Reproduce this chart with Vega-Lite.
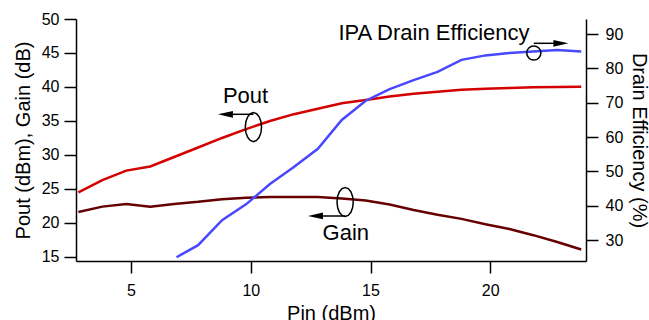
{
  "$schema": "https://vega.github.io/schema/vega-lite/v6.json",
  "width": 510,
  "height": 242,
  "autosize": {"type": "none"},
  "padding": {"left": 76, "top": 19, "right": 63, "bottom": 59},
  "background": "white",
  "datasets": {
    "curves": [
      {"Pin": 2.8, "series": "Pout", "v": 24.5},
      {"Pin": 3.8, "series": "Pout", "v": 26.3},
      {"Pin": 4.8, "series": "Pout", "v": 27.7},
      {"Pin": 5.8, "series": "Pout", "v": 28.3},
      {"Pin": 6.8, "series": "Pout", "v": 29.7},
      {"Pin": 7.8, "series": "Pout", "v": 31.1},
      {"Pin": 8.8, "series": "Pout", "v": 32.5},
      {"Pin": 9.8, "series": "Pout", "v": 33.8},
      {"Pin": 10.8, "series": "Pout", "v": 35.0},
      {"Pin": 11.8, "series": "Pout", "v": 36.0},
      {"Pin": 12.8, "series": "Pout", "v": 36.8},
      {"Pin": 13.8, "series": "Pout", "v": 37.6},
      {"Pin": 14.8, "series": "Pout", "v": 38.1},
      {"Pin": 15.8, "series": "Pout", "v": 38.6},
      {"Pin": 16.8, "series": "Pout", "v": 39.0},
      {"Pin": 17.8, "series": "Pout", "v": 39.3},
      {"Pin": 18.8, "series": "Pout", "v": 39.6},
      {"Pin": 19.8, "series": "Pout", "v": 39.75},
      {"Pin": 20.8, "series": "Pout", "v": 39.85},
      {"Pin": 21.8, "series": "Pout", "v": 39.95},
      {"Pin": 22.8, "series": "Pout", "v": 40.0},
      {"Pin": 23.8, "series": "Pout", "v": 40.05},
      {"Pin": 2.8, "series": "Gain", "v": 21.6},
      {"Pin": 3.8, "series": "Gain", "v": 22.4},
      {"Pin": 4.8, "series": "Gain", "v": 22.8},
      {"Pin": 5.8, "series": "Gain", "v": 22.4},
      {"Pin": 6.8, "series": "Gain", "v": 22.8},
      {"Pin": 7.8, "series": "Gain", "v": 23.1},
      {"Pin": 8.8, "series": "Gain", "v": 23.5},
      {"Pin": 9.8, "series": "Gain", "v": 23.7},
      {"Pin": 10.8, "series": "Gain", "v": 23.8},
      {"Pin": 11.8, "series": "Gain", "v": 23.8},
      {"Pin": 12.8, "series": "Gain", "v": 23.8},
      {"Pin": 13.8, "series": "Gain", "v": 23.6},
      {"Pin": 14.8, "series": "Gain", "v": 23.3},
      {"Pin": 15.8, "series": "Gain", "v": 22.7},
      {"Pin": 16.8, "series": "Gain", "v": 21.9},
      {"Pin": 17.8, "series": "Gain", "v": 21.2},
      {"Pin": 18.8, "series": "Gain", "v": 20.6},
      {"Pin": 19.8, "series": "Gain", "v": 19.8},
      {"Pin": 20.8, "series": "Gain", "v": 19.1},
      {"Pin": 21.8, "series": "Gain", "v": 18.2},
      {"Pin": 22.8, "series": "Gain", "v": 17.2},
      {"Pin": 23.8, "series": "Gain", "v": 16.1},
      {"Pin": 6.9, "series": "Eff", "v": 25.0},
      {"Pin": 7.8, "series": "Eff", "v": 28.5},
      {"Pin": 8.8, "series": "Eff", "v": 35.8},
      {"Pin": 9.8, "series": "Eff", "v": 40.4},
      {"Pin": 10.8, "series": "Eff", "v": 46.3},
      {"Pin": 11.8, "series": "Eff", "v": 51.3},
      {"Pin": 12.8, "series": "Eff", "v": 56.6},
      {"Pin": 13.8, "series": "Eff", "v": 65.0},
      {"Pin": 14.8, "series": "Eff", "v": 70.6},
      {"Pin": 15.8, "series": "Eff", "v": 74.0},
      {"Pin": 16.8, "series": "Eff", "v": 76.6},
      {"Pin": 17.8, "series": "Eff", "v": 79.0},
      {"Pin": 18.8, "series": "Eff", "v": 82.5},
      {"Pin": 19.8, "series": "Eff", "v": 83.8},
      {"Pin": 20.8, "series": "Eff", "v": 84.5},
      {"Pin": 21.8, "series": "Eff", "v": 84.9},
      {"Pin": 22.8, "series": "Eff", "v": 85.4},
      {"Pin": 23.8, "series": "Eff", "v": 84.9}
    ],
    "notes": [
      {"kind": "text", "side": "left", "Pin": 9.78, "v": 37.6, "label": "Pout"},
      {"kind": "text", "side": "left", "Pin": 13.97, "v": 17.5, "label": "Gain"},
      {"kind": "text", "side": "right", "Pin": 17.65, "v": 88.3, "label": "IPA Drain Efficiency"},
      {"kind": "ellipse", "side": "left", "Pin": 10.11, "v": 34.1},
      {"kind": "ellipse", "side": "left", "Pin": 13.94, "v": 23.08},
      {"kind": "ellipse", "side": "right", "Pin": 21.82, "v": 84.5},
      {"kind": "arrow", "side": "left", "Pin": 8.94, "Pin2": 10.11, "v": 35.98},
      {"kind": "arrow", "side": "left", "Pin": 12.7, "Pin2": 13.94, "v": 21.02},
      {"kind": "arrow", "side": "right", "Pin": 22.95, "Pin2": 21.82, "v": 87.32}
    ]
  },
  "layer": [
    {
      "encoding": {
        "x": {"field": "Pin", "type": "quantitative", "scale": {"domain": [2.7, 24], "nice": false, "zero": false}, "axis": {"values": [5, 10, 15, 20], "title": "Pin (dBm)", "labelPadding": 9, "titlePadding": 5}},
        "y": {"field": "v", "type": "quantitative", "scale": {"domain": [14.4, 50], "nice": false, "zero": false}, "axis": {"orient": "left", "values": [15, 20, 25, 30, 35, 40, 45, 50], "title": "Pout (dBm), Gain (dB)", "labelPadding": 5, "titlePadding": 8}}
      },
      "layer": [
        {
          "data": {"name": "curves"},
          "transform": [{"filter": "datum.series !== 'Eff'"}],
          "mark": {"type": "line", "strokeWidth": 2.5},
          "encoding": {
            "color": {"field": "series", "type": "nominal", "scale": {"domain": ["Pout", "Gain"], "range": ["#d40000", "#660000"]}, "legend": null},
            "detail": {"field": "series"}
          }
        },
        {
          "data": {"name": "notes"},
          "transform": [{"filter": "datum.side === 'left' && datum.kind === 'text'"}],
          "mark": {"type": "text", "fontSize": 22, "font": "Liberation Sans", "align": "center", "baseline": "alphabetic", "color": "black"},
          "encoding": {"text": {"field": "label"}}
        },
        {
          "data": {"name": "notes"},
          "transform": [{"filter": "datum.side === 'left' && datum.kind === 'ellipse'"}],
          "mark": {"type": "point", "filled": false, "stroke": "black", "strokeWidth": 1.5, "opacity": 1, "size": 841, "shape": "M0.56,0L0.517,0.383L0.396,0.707L0.214,0.924L0,1L-0.214,0.924L-0.396,0.707L-0.517,0.383L-0.56,0L-0.517,-0.383L-0.396,-0.707L-0.214,-0.924L0,-1L0.214,-0.924L0.396,-0.707L0.517,-0.383Z"}
        },
        {
          "data": {"name": "notes"},
          "transform": [{"filter": "datum.side === 'left' && datum.kind === 'arrow'"}],
          "mark": {"type": "rule", "stroke": "black", "strokeWidth": 1.5},
          "encoding": {"x2": {"field": "Pin2"}}
        },
        {
          "data": {"name": "notes"},
          "transform": [{"filter": "datum.side === 'left' && datum.kind === 'arrow'"}],
          "mark": {"type": "point", "filled": true, "fill": "black", "stroke": null, "opacity": 1, "size": 225, "shape": "M-1,0L1,-0.45L1,0.45Z"}
        }
      ]
    },
    {
      "encoding": {
        "x": {"field": "Pin", "type": "quantitative", "scale": {"domain": [2.7, 24], "nice": false, "zero": false}, "axis": {"values": [5, 10, 15, 20], "title": "Pin (dBm)", "labelPadding": 9, "titlePadding": 5}},
        "y": {"field": "v", "type": "quantitative", "scale": {"domain": [23.9, 94.4], "nice": false, "zero": false}, "axis": {"orient": "right", "values": [30, 40, 50, 60, 70, 80, 90], "title": "Drain Efficiency (%)", "labelPadding": 7, "titlePadding": 6}}
      },
      "layer": [
        {
          "data": {"name": "curves"},
          "transform": [{"filter": "datum.series === 'Eff'"}],
          "mark": {"type": "line", "strokeWidth": 2.5, "color": "#4848ff"}
        },
        {
          "data": {"name": "notes"},
          "transform": [{"filter": "datum.side === 'right' && datum.kind === 'text'"}],
          "mark": {"type": "text", "fontSize": 22, "font": "Liberation Sans", "align": "center", "baseline": "alphabetic", "color": "black"},
          "encoding": {"text": {"field": "label"}}
        },
        {
          "data": {"name": "notes"},
          "transform": [{"filter": "datum.side === 'right' && datum.kind === 'ellipse'"}],
          "mark": {"type": "point", "shape": "circle", "filled": false, "stroke": "black", "strokeWidth": 1.5, "opacity": 1, "size": 200}
        },
        {
          "data": {"name": "notes"},
          "transform": [{"filter": "datum.side === 'right' && datum.kind === 'arrow'"}],
          "mark": {"type": "rule", "stroke": "black", "strokeWidth": 1.5},
          "encoding": {"x2": {"field": "Pin2"}}
        },
        {
          "data": {"name": "notes"},
          "transform": [{"filter": "datum.side === 'right' && datum.kind === 'arrow'"}],
          "mark": {"type": "point", "filled": true, "fill": "black", "stroke": null, "opacity": 1, "size": 225, "shape": "M1,0L-1,-0.45L-1,0.45Z"}
        }
      ]
    }
  ],
  "resolve": {"scale": {"y": "independent"}},
  "config": {
    "view": {"stroke": null},
    "font": "Liberation Sans",
    "axis": {
      "grid": false,
      "domainColor": "black",
      "domainWidth": 1.5,
      "tickColor": "black",
      "tickWidth": 1.5,
      "tickSize": 12,
      "labelFont": "Liberation Sans",
      "labelFontSize": 16,
      "labelColor": "black",
      "labelFlush": false,
      "titleFont": "Liberation Sans",
      "titleFontSize": 20,
      "titleFontWeight": "normal",
      "titleColor": "black"
    }
  }
}
